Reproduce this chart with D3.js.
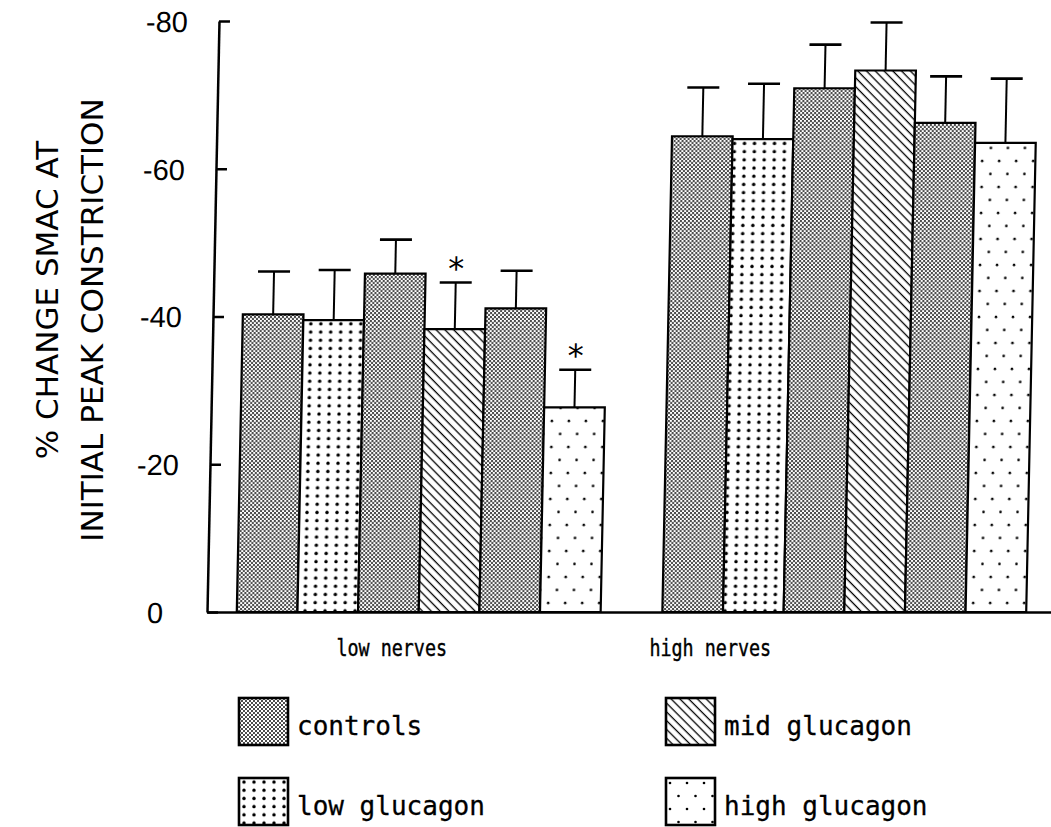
<!DOCTYPE html>
<html>
<head>
<meta charset="utf-8">
<script src="https://cdn.jsdelivr.net/npm/d3@7"></script>
<style>
  html, body { margin: 0; padding: 0; background: #fff; }
  svg { display: block; }
</style>
</head>
<body>
<svg id="chart" width="1051" height="827"></svg>
<script>
// ---------------- data ----------------
const categories = ["low nerves", "high nerves"];
const slotConditions = ["controls", "low glucagon", "controls", "mid glucagon", "controls", "high glucagon"];
const lowNerves = [-40.3, -39.5, -45.8, -38.3, -41.1, -27.7];
const lowNervesSEM = [5.8, 6.8, 4.6, 6.3, 5.1, 5.1];
const lowNervesSig = ["", "", "", "*", "", "*"];
const highNerves = [-64.4, -64.0, -70.9, -73.3, -66.2, -63.5];
const highNervesSEM = [6.6, 7.5, 5.9, 6.5, 6.3, 8.7];
const highNervesSig = ["", "", "", "", "", ""];
const yTicks = [0, -20, -40, -60, -80];
const legendItems = ["controls", "low glucagon", "mid glucagon", "high glucagon"];
const yTitleLines = ["% CHANGE SMAC AT", "INITIAL PEAK CONSTRICTION"];

// ---------------- layout ----------------
const W = 1051, H = 827;
const baseY = 612, topY = 21, axisX = 207;
const shearDeg = -1.163;             // scanned original is slightly sheared
const mono = "'DejaVu Sans Mono', monospace";
const sans = "'Liberation Sans', Arial, sans-serif";
const titleFont = "'DejaVu Sans', sans-serif";

const svg = d3.select("#chart");
const defs = svg.append("defs");

// patterns
function patBase(id, w, h) {
  const p = defs.append("pattern").attr("id", id)
    .attr("patternUnits", "userSpaceOnUse").attr("width", w).attr("height", h);
  p.append("rect").attr("width", w).attr("height", h).attr("fill", "#fff");
  return p;
}
{
  const p = patBase("pat-controls", 4, 4);
  p.append("circle").attr("cx", 1).attr("cy", 1).attr("r", 0.95).attr("fill", "#000");
  p.append("circle").attr("cx", 3).attr("cy", 3).attr("r", 0.95).attr("fill", "#000");
}
{
  const p = patBase("pat-low", 10, 8.2);
  p.append("circle").attr("cx", 5).attr("cy", 4).attr("r", 1.7).attr("fill", "#000");
}
{
  const p = patBase("pat-mid", 6.2, 6.2).attr("patternTransform", "rotate(-45)");
  p.append("line").attr("x1", 3).attr("x2", 3).attr("y1", 0).attr("y2", 6.2)
    .attr("stroke", "#000").attr("stroke-width", 1.3);
}
{
  const p = patBase("pat-high", 17, 26);
  p.append("circle").attr("cx", 4).attr("cy", 5).attr("r", 1.3).attr("fill", "#000");
  p.append("circle").attr("cx", 12.5).attr("cy", 18).attr("r", 1.3).attr("fill", "#000");
}
const fillFor = {
  "controls": "url(#pat-controls)",
  "low glucagon": "url(#pat-low)",
  "mid glucagon": "url(#pat-mid)",
  "high glucagon": "url(#pat-high)"
};

// scales
const x0 = d3.scaleBand().domain(categories).range([axisX, 1056])
  .paddingInner(0.145).paddingOuter(0.07);
const x1 = d3.scaleBand().domain(d3.range(slotConditions.length)).range([0, x0.bandwidth()]).padding(0);
const y = d3.scaleLinear().domain([0, -80]).range([baseY, topY]);

const seriesByCat = {
  "low nerves": { v: lowNerves, e: lowNervesSEM, s: lowNervesSig },
  "high nerves": { v: highNerves, e: highNervesSEM, s: highNervesSig }
};

// sheared plot group
const plot = svg.append("g")
  .attr("transform", `translate(0,${baseY}) skewX(${shearDeg}) translate(0,${-baseY})`);

const rows = [];
categories.forEach(c => {
  const d = seriesByCat[c];
  slotConditions.forEach((cond, i) => rows.push({ cat: c, i, cond, v: d.v[i], e: d.e[i], s: d.s[i] }));
});

// bars
plot.append("g").selectAll("rect").data(rows).join("rect")
  .attr("x", d => x0(d.cat) + x1(d.i))
  .attr("y", d => y(d.v))
  .attr("width", x1.bandwidth())
  .attr("height", d => y(0) - y(d.v))
  .attr("fill", d => fillFor[d.cond])
  .attr("stroke", "#000").attr("stroke-width", 2.2);

// error bars
const cx = d => x0(d.cat) + x1(d.i) + x1.bandwidth() / 2;
const eg = plot.append("g").attr("stroke", "#000").attr("stroke-width", 2);
eg.selectAll("line.v").data(rows).join("line").attr("class", "v")
  .attr("x1", cx).attr("x2", cx)
  .attr("y1", d => y(d.v)).attr("y2", d => y(d.v - d.e));
eg.selectAll("line.c").data(rows).join("line").attr("class", "c")
  .attr("x1", d => cx(d) - 16).attr("x2", d => cx(d) + 16)
  .attr("y1", d => y(d.v - d.e)).attr("y2", d => y(d.v - d.e))
  .attr("stroke-width", 2.6);

// significance stars
plot.append("g").selectAll("text").data(rows.filter(d => d.s)).join("text")
  .attr("x", cx)
  .attr("y", d => y(d.v - d.e) - 3)
  .attr("text-anchor", "middle")
  .style("font-family", mono).style("font-size", "32px")
  .text(d => d.s);

// y axis
const yAxis = plot.append("g").attr("transform", `translate(${axisX},0)`)
  .call(d3.axisLeft(y).tickValues(yTicks).tickSizeInner(-11).tickSizeOuter(0).tickFormat(d3.format("d")));
yAxis.select(".domain").attr("stroke-width", 2.5);
yAxis.selectAll(".tick line").attr("stroke-width", 2.5);
yAxis.selectAll(".tick text")
  .attr("x", -52).attr("dy", "0.36em").attr("text-anchor", "middle")
  .style("font-family", sans).style("font-size", "29px").attr("fill", "#000")
  .text(d => d === 0 ? "0" : "-" + Math.abs(d));

// x axis (baseline)
const labelOffsets = [-27, -134];
const labelScaleX = 0.8;
const xAxis = svg.append("g").attr("transform", `translate(0,${baseY})`)
  .call(d3.axisBottom(x0).tickSize(0).tickSizeOuter(0).tickPadding(28));
xAxis.select(".domain").attr("stroke-width", 2.5);
xAxis.selectAll(".tick text")
  .attr("x", (d, i) => labelOffsets[i] / labelScaleX)
  .attr("transform", `scale(${labelScaleX},1)`)
  .style("font-family", mono).style("font-size", "23px").attr("fill", "#000")
  .attr("stroke", "#000").attr("stroke-width", 0.4);

// y title
const yt = svg.append("g");
yt.selectAll("text").data(yTitleLines).join("text")
  .attr("transform", (d, i) => `translate(${[47, 92][i]},${[300, 320][i]}) rotate(-90)`)
  .attr("dy", "0.36em").attr("text-anchor", "middle")
  .style("font-family", titleFont).style("font-size", "31px")
  .text(d => d);

// legend
const legX = [239, 666], legY = [698, 778];
const lg = svg.append("g").selectAll("g").data(legendItems).join("g")
  .attr("transform", (d, i) => `translate(${legX[i < 2 ? 0 : 1]},${legY[i % 2]})`);
lg.append("rect").attr("width", 49).attr("height", 47)
  .attr("fill", d => fillFor[d]).attr("stroke", "#000").attr("stroke-width", 2.6);
lg.append("text").attr("x", 58).attr("y", 37)
  .style("font-family", mono).style("font-size", "26px")
  .attr("stroke", "#000").attr("stroke-width", 0.3)
  .text(d => d);
</script>
</body>
</html>
